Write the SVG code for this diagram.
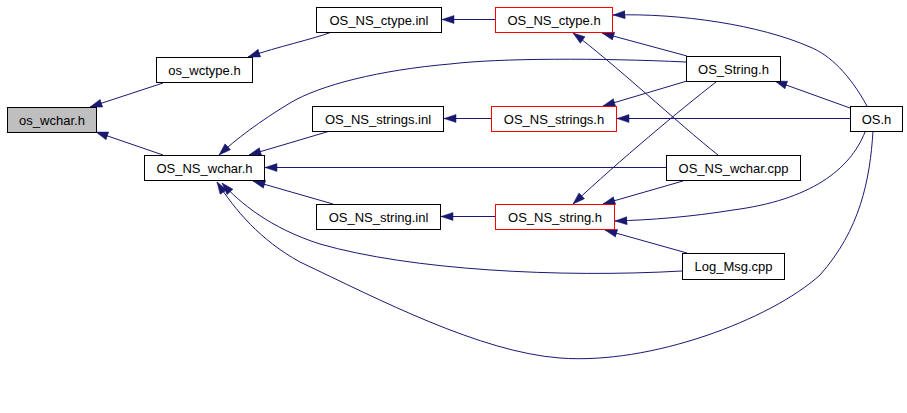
<svg xmlns="http://www.w3.org/2000/svg" width="907" height="413" viewBox="0 0 907 413">
<style>
.n rect{fill:#fff;stroke:#000;stroke-width:1}
.n.r rect{stroke:#ff0000}
.n.g rect{fill:#bfbfbf}
.n text{font-family:"Liberation Sans",Arial,sans-serif;font-size:13px;text-anchor:middle;fill:#000}
#edges path{fill:none;stroke:#191970;stroke-width:1;marker-end:url(#ah)}
</style>
<defs>
<marker id="ah" markerUnits="userSpaceOnUse" markerWidth="14" markerHeight="10" refX="12.5" refY="4.5" orient="auto">
<path d="M0.5,0.5 L12.5,4.5 L0.5,8.5 z" fill="#191970" stroke="#191970" stroke-width="0.5"/>
</marker>
</defs>
<rect width="907" height="413" fill="#fff"/>
<g id="edges">
<path d="M163,83 L90,107"/>
<path d="M163,155 L96,132"/>
<path d="M332,32 C310,40 280,46 248,57"/>
<path d="M495,19.5 L442,19.5"/>
<path d="M686,62 C600,58 500,58 450,64 C380,70 320,85 290,103 C260,121 235,140 219,155"/>
<path d="M330,131 L249,155"/>
<path d="M666,167.5 L265,167.5"/>
<path d="M333,204 L253,181"/>
<path d="M682,271 C560,278 410,270 320,244 C270,228 240,203 222,183"/>
<path d="M873,131 C870,180 860,230 820,275 C770,320 650,365 560,358 C480,352 380,300 300,262 C260,240 235,210 217,182"/>
<path d="M491,118.5 L444,118.5"/>
<path d="M495,216.5 L441,216.5"/>
<path d="M687,56 L602,33"/>
<path d="M718,155 C680,125 610,60 573,33"/>
<path d="M867,106 C850,75 830,55 810,47 C760,25 680,13 613,15"/>
<path d="M850,108 L775,81"/>
<path d="M687,81 L603,106"/>
<path d="M850,118.5 L617,118.5"/>
<path d="M716,82 C680,110 620,160 573,204"/>
<path d="M683,181 L603,204"/>
<path d="M865,132 C850,170 810,200 733,210 C690,217 650,220 615,221"/>
<path d="M687,253 L605,230"/>
</g>
<g id="os_wchar_h" class="n g"><rect x="7.5" y="107.5" width="89" height="25"/><text x="52" y="124.5">os_wchar.h</text></g>
<g id="os_wctype_h" class="n"><rect x="156.5" y="57.5" width="96" height="25"/><text x="204.5" y="74.5">os_wctype.h</text></g>
<g id="OS_NS_wchar_h" class="n"><rect x="144.5" y="155.5" width="120" height="25"/><text x="204.5" y="172.5">OS_NS_wchar.h</text></g>
<g id="OS_NS_ctype_inl" class="n"><rect x="316.5" y="7.5" width="125" height="25"/><text x="379" y="24.5">OS_NS_ctype.inl</text></g>
<g id="OS_NS_strings_inl" class="n"><rect x="312.5" y="106.5" width="131" height="25"/><text x="378" y="123.5">OS_NS_strings.inl</text></g>
<g id="OS_NS_string_inl" class="n"><rect x="316.5" y="204.5" width="124" height="25"/><text x="378.5" y="221.5">OS_NS_string.inl</text></g>
<g id="OS_NS_ctype_h" class="n r"><rect x="495.5" y="7.5" width="117" height="25"/><text x="554" y="24.5">OS_NS_ctype.h</text></g>
<g id="OS_NS_strings_h" class="n r"><rect x="491.5" y="106.5" width="125" height="25"/><text x="554" y="123.5">OS_NS_strings.h</text></g>
<g id="OS_NS_string_h" class="n r"><rect x="495.5" y="204.5" width="119" height="25"/><text x="555" y="221.5">OS_NS_string.h</text></g>
<g id="OS_String_h" class="n"><rect x="686.5" y="56.5" width="94" height="25"/><text x="733.5" y="73.5">OS_String.h</text></g>
<g id="OS_NS_wchar_cpp" class="n"><rect x="666.5" y="155.5" width="134" height="25"/><text x="733.5" y="172.5">OS_NS_wchar.cpp</text></g>
<g id="Log_Msg_cpp" class="n"><rect x="682.5" y="253.5" width="102" height="26"/><text x="733.5" y="271">Log_Msg.cpp</text></g>
<g id="OS_h" class="n"><rect x="850.5" y="106.5" width="52" height="25"/><text x="876.5" y="123.5">OS.h</text></g>
</svg>
